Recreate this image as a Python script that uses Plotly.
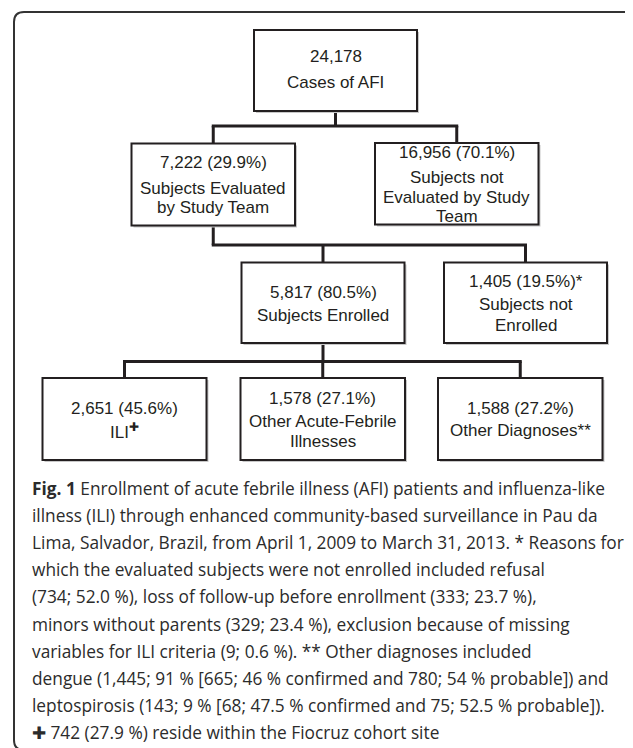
import plotly.graph_objects as go

# ---------------- data ----------------
node_counts = ["24,178", "7,222", "16,956", "5,817", "1,405", "2,651", "1,578", "1,588"]
node_pcts = ["", "29.9%", "70.1%", "80.5%", "19.5%", "45.6%", "27.1%", "27.2%"]
node_marks = ["", "", "", "", "*", "", "", ""]
node_labels = [
    ["Cases of AFI"],
    ["Subjects Evaluated", "by Study Team"],
    ["Subjects not", "Evaluated by Study", "Team"],
    ["Subjects Enrolled"],
    ["Subjects not", "Enrolled"],
    ["ILI<sup>✚</sup>"],
    ["Other Acute-Febrile", "Illnesses"],
    ["Other Diagnoses**"],
]
edges = [(0, 1), (0, 2), (1, 3), (1, 4), (3, 5), (3, 6), (3, 7)]

caption_lines = [
    "<b>Fig. 1</b> Enrollment of acute febrile illness (AFI) patients and influenza-like",
    "illness (ILI) through enhanced community-based surveillance in Pau da",
    "Lima, Salvador, Brazil, from April 1, 2009 to March 31, 2013. * Reasons for",
    "which the evaluated subjects were not enrolled included refusal",
    "(734; 52.0 %), loss of follow-up before enrollment (333; 23.7 %),",
    "minors without parents (329; 23.4 %), exclusion because of missing",
    "variables for ILI criteria (9; 0.6 %). ** Other diagnoses included",
    "dengue (1,445; 91 % [665; 46 % confirmed and 780; 54 % probable]) and",
    "leptospirosis (143; 9 % [68; 47.5 % confirmed and 75; 52.5 % probable]).",
    "✚ 742 (27.9 %) reside within the Fiocruz cohort site",
]

# ---------------- layout (positions in page pixels) ----------------
W, H = 633, 748
OFF = 8  # default page body margin
boxes = [  # x0, x1, y0, y1
    (254, 417, 30, 111),
    (131.5, 295, 143.5, 225.5),
    (375, 538.5, 143, 224.5),
    (241.5, 404.5, 262.5, 343),
    (444, 607, 262.5, 343),
    (42.5, 206.5, 378, 460),
    (240.5, 405, 378, 460),
    (438, 602.5, 378, 460),
]
text_y = [  # y of each text line in box (count line first)
    [56, 82],
    [162, 188, 207],
    [152, 177, 197, 216],
    [292, 315],
    [281, 304, 325],
    [408, 431],
    [398, 421, 441],
    [408, 430],
]
bus_y = {0: 126, 1: 245, 3: 361.5}  # horizontal connector rows per parent

cap_x = 29.5
cap_y0 = 488
cap_dy = 27.2

INK = "#231f20"
fig = go.Figure()
shapes = []
annotations = []

def seg(x0, y0, x1, y1):
    shapes.append(dict(type="line", x0=x0, y0=y0, x1=x1, y1=y1, xref="x", yref="y",
                       line=dict(color=INK, width=3), layer="below"))

def cx(i):
    return (boxes[i][0] + boxes[i][1]) / 2

parents = sorted(set(p for p, _ in edges))
for p in parents:
    kids = [c for pp, c in edges if pp == p]
    by = bus_y[p]
    seg(cx(p), boxes[p][3], cx(p), by)
    xs = [cx(k) for k in kids] + [cx(p)]
    seg(min(xs) - 1.5, by, max(xs) + 1.5, by)
    for k in kids:
        seg(cx(k), by, cx(k), boxes[k][2])

for (x0, x1, y0, y1) in boxes:
    shapes.append(dict(type="rect", x0=x0 + 2, x1=x1 + 2, y0=y0 + 2, y1=y1 + 2,
                       xref="x", yref="y", fillcolor="#c8c8c8", line=dict(width=0), layer="above"))
    shapes.append(dict(type="rect", x0=x0, x1=x1, y0=y0, y1=y1, xref="x", yref="y",
                       fillcolor="white", line=dict(color=INK, width=2), layer="above"))

shapes.append(dict(type="path", xref="x", yref="y",
                   path="M 24,12 H 624 Q 634,12 634,22 V 740 Q 634,750 624,750 H 24 Q 14,750 14,740 V 22 Q 14,12 24,12 Z",
                   line=dict(color="#333333", width=2), fillcolor="rgba(0,0,0,0)", layer="above"))

box_font = dict(family="Liberation Sans, Arial, sans-serif", size=17, color=INK)
for i in range(len(boxes)):
    first = node_counts[i] + (f" ({node_pcts[i]})" if node_pcts[i] else "") + node_marks[i]
    lines = [first] + node_labels[i]
    for t, y in zip(lines, text_y[i]):
        annotations.append(dict(x=cx(i), y=y, xref="x", yref="y", text=t, showarrow=False,
                                xanchor="center", yanchor="middle", font=box_font))

cap_font = dict(family="Open Sans, sans-serif", size=17.3, color="#2b2b2b")
for j, t in enumerate(caption_lines):
    annotations.append(dict(x=cap_x, y=cap_y0 + j * cap_dy, xref="x", yref="y", text=t,
                            showarrow=False, xanchor="left", yanchor="middle", font=cap_font))

fig.update_layout(
    width=W - OFF, height=H - OFF, margin=dict(l=0, r=0, t=0, b=0),
    paper_bgcolor="white", plot_bgcolor="white",
    xaxis=dict(range=[OFF, W], visible=False, fixedrange=True),
    yaxis=dict(range=[H, OFF], visible=False, fixedrange=True),
    shapes=shapes, annotations=annotations, showlegend=False,
)
fig.write_html("out.html")
